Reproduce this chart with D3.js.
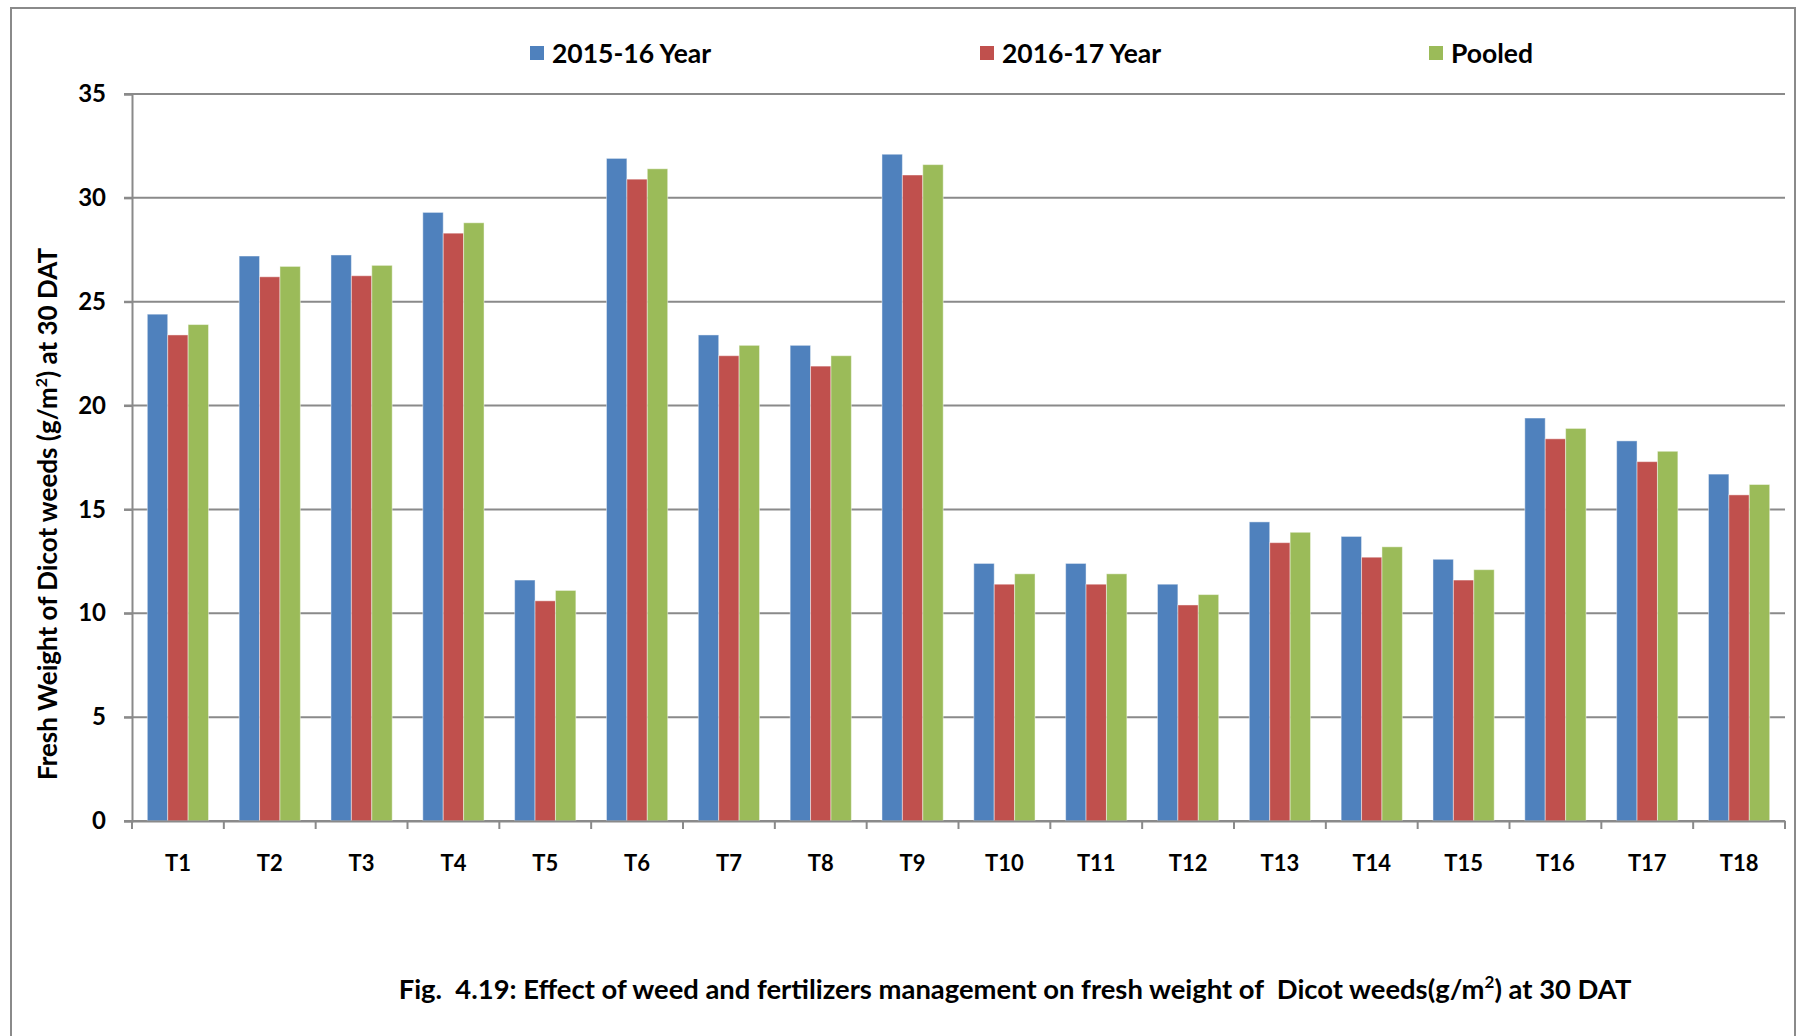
<!DOCTYPE html>
<html>
<head>
<meta charset="utf-8">
<script src="https://cdn.jsdelivr.net/npm/d3@7"></script>
<style>
  body { margin: 0; background: #fff; }
  text { font-family: Lato, "Open Sans", sans-serif; font-weight: bold; fill: #000; }
</style>
</head>
<body>
<svg id="chart" width="1798" height="1036"></svg>
<script>
// data
const treatments = ["T1", "T2", "T3", "T4", "T5", "T6", "T7", "T8", "T9",
  "T10", "T11", "T12", "T13", "T14", "T15", "T16", "T17", "T18"];
const year1516 = [24.4, 27.2, 27.25, 29.3, 11.6, 31.9, 23.4, 22.9, 32.1,
  12.4, 12.4, 11.4, 14.4, 13.7, 12.6, 19.4, 18.3, 16.7];
const year1617 = [23.4, 26.2, 26.25, 28.3, 10.6, 30.9, 22.4, 21.9, 31.1,
  11.4, 11.4, 10.4, 13.4, 12.7, 11.6, 18.4, 17.3, 15.7];
const pooled = [23.9, 26.7, 26.75, 28.8, 11.1, 31.4, 22.9, 22.4, 31.6,
  11.9, 11.9, 10.9, 13.9, 13.2, 12.1, 18.9, 17.8, 16.2];
const seriesNames = ["2015-16 Year", "2016-17 Year", "Pooled"];
const yTicks = [0, 5, 10, 15, 20, 25, 30, 35];

const colors = ["#4F81BD", "#C0504D", "#9BBB59"];

const svg = d3.select("#chart");
const margin = { top: 94, right: 13, bottom: 215, left: 132 };
const width = 1798, height = 1036;

// outer frame
svg.append("rect")
  .attr("x", 11).attr("y", 8)
  .attr("width", 1784).attr("height", 1040)
  .attr("fill", "none")
  .attr("stroke", "#8a8a8a")
  .attr("stroke-width", 2);

const x = d3.scaleBand()
  .domain(treatments)
  .range([margin.left, width - margin.right]);

// Excel style gap width 150%
const inner = d3.scaleBand()
  .domain(d3.range(3))
  .range([x.bandwidth() * 0.75 / 4.5, x.bandwidth() * (0.75 + 3) / 4.5]);

const y = d3.scaleLinear()
  .domain([0, 35])
  .range([height - margin.bottom, margin.top]);

// gridlines
svg.append("g")
  .selectAll("line")
  .data(yTicks)
  .join("line")
  .attr("x1", margin.left - 8)
  .attr("x2", width - margin.right)
  .attr("y1", d => y(d))
  .attr("y2", d => y(d))
  .attr("stroke", "#8a8a8a")
  .attr("stroke-width", 2);

// bars
const rows = treatments.map((t, i) => ({ t: t, v: [year1516[i], year1617[i], pooled[i]] }));
svg.append("g")
  .selectAll("g")
  .data(rows)
  .join("g")
  .attr("transform", d => `translate(${x(d.t)},0)`)
  .selectAll("rect")
  .data(d => d.v)
  .join("rect")
  .attr("x", (d, i) => inner(i))
  .attr("width", inner.bandwidth())
  .attr("y", d => y(d))
  .attr("height", d => y(0) - y(d))
  .attr("fill", (d, i) => colors[i])
  .attr("stroke", "#ffffff")
  .attr("stroke-opacity", 0.45)
  .attr("stroke-width", 1);

// y axis
const yAxis = svg.append("g")
  .attr("transform", `translate(${margin.left},0)`)
  .call(d3.axisLeft(y).tickValues(yTicks).tickSize(8).tickPadding(18));
yAxis.select(".domain").attr("stroke", "#8a8a8a").attr("stroke-width", 2);
yAxis.selectAll(".tick line").attr("stroke", "#8a8a8a").attr("stroke-width", 2);
yAxis.selectAll(".tick text")
  .attr("font-size", 24)
  .attr("font-family", "Lato, sans-serif")
  .attr("font-weight", "bold")
  .attr("fill", "#000");

// x axis
const xAxis = svg.append("g")
  .attr("transform", `translate(0,${y(0)})`)
  .call(d3.axisBottom(x).tickSize(0).tickPadding(34));
xAxis.select(".domain").attr("stroke", "#8a8a8a").attr("stroke-width", 2);
xAxis.selectAll(".tick text")
  .attr("font-size", 22)
  .attr("font-family", "Lato, sans-serif")
  .attr("font-weight", "bold")
  .attr("fill", "#000");

// tick marks on band boundaries
svg.append("g")
  .selectAll("line")
  .data(treatments.concat(["end"]))
  .join("line")
  .attr("x1", (d, i) => i < treatments.length ? x(d) : x.range()[1])
  .attr("x2", (d, i) => i < treatments.length ? x(d) : x.range()[1])
  .attr("y1", y(0))
  .attr("y2", y(0) + 8)
  .attr("stroke", "#8a8a8a")
  .attr("stroke-width", 2);

// legend
const legendX = [530, 980, 1429];
const legend = svg.append("g")
  .selectAll("g")
  .data(seriesNames)
  .join("g")
  .attr("transform", (d, i) => `translate(${legendX[i]},53)`);
legend.append("rect")
  .attr("x", 0).attr("y", -7)
  .attr("width", 14).attr("height", 14)
  .attr("fill", (d, i) => colors[i]);
legend.append("text")
  .attr("x", 22)
  .attr("dy", "0.36em")
  .attr("font-size", 26.5)
  .text(d => d);

// y axis title
const yTitle = svg.append("text")
  .attr("transform", "translate(57,514) rotate(-90)")
  .attr("text-anchor", "middle")
  .attr("font-size", 26);
yTitle.append("tspan").text("Fresh Weight of Dicot weeds (g/m");
yTitle.append("tspan").attr("font-size", 16).attr("dy", -10).text("2");
yTitle.append("tspan").attr("dy", 10).text(") at 30 DAT");

// figure caption
const caption = svg.append("text")
  .attr("x", 1015).attr("y", 999)
  .attr("text-anchor", "middle")
  .attr("font-size", 27.4)
  .style("white-space", "pre");
caption.append("tspan").text("Fig.  4.19: Effect of weed and fertilizers management on fresh weight of  Dicot weeds(g/m");
caption.append("tspan").attr("font-size", 17).attr("dy", -11).text("2");
caption.append("tspan").attr("dy", 11).text(") at 30 DAT");
</script>
</body>
</html>
